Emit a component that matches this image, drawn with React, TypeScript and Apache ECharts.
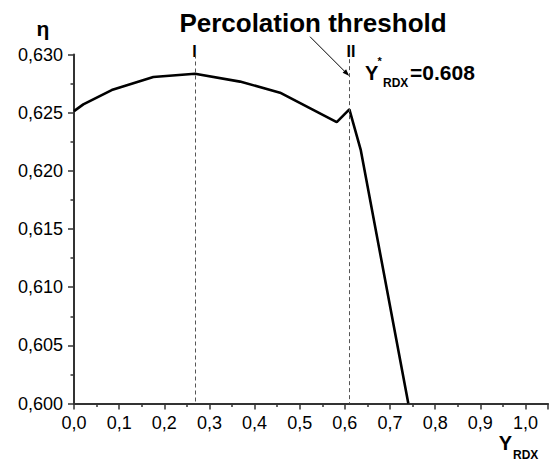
import React, { useEffect, useRef } from "react";
import * as echarts from "echarts";

const yRdx = [0, 0.0206, 0.0835, 0.1757, 0.268, 0.3677, 0.4564, 0.582, 0.61, 0.635, 0.7406];
const eta = [0.62513, 0.62571, 0.62694, 0.62806, 0.62835, 0.62767, 0.62672, 0.62419, 0.62528, 0.62183, 0.6];
const markX = [0.268, 0.61];
const markTop = [0.63, 0.6296];

const FONT = "'Liberation Sans', Arial, sans-serif";

export default function App() {
  const ref = useRef<HTMLDivElement>(null);
  useEffect(() => {
    if (!ref.current) return;
    const chart = echarts.init(ref.current, null, { renderer: "svg" });
    const data = yRdx.map((x, i) => [x, eta[i]]);
    chart.setOption({
      animation: false,
      backgroundColor: "#fff",
      textStyle: { fontFamily: FONT },
      grid: { left: 74, right: 1, top: 54.5, bottom: 60.5, containLabel: false },
      xAxis: {
        type: "value",
        min: 0,
        max: 1.05,
        interval: 0.1,
        splitLine: { show: false },
        axisLine: { show: true, lineStyle: { color: "#333", width: 2 } },
        axisTick: { show: true, inside: false, length: 6, lineStyle: { color: "#333", width: 1.5 } },
        minorTick: { show: true, splitNumber: 2, length: 3.5, lineStyle: { color: "#333", width: 1.5 } },
        axisLabel: {
          color: "#000",
          fontSize: 18,
          fontFamily: FONT,
          margin: 10,
          showMaxLabel: false,
          formatter: (v: number) => v.toFixed(1).replace(".", ","),
        },
      },
      yAxis: {
        type: "value",
        min: 0.6,
        max: 0.63,
        interval: 0.005,
        splitLine: { show: false },
        axisLine: { show: true, lineStyle: { color: "#333", width: 2 } },
        axisTick: { show: true, inside: false, length: 6, lineStyle: { color: "#333", width: 1.5 } },
        minorTick: { show: true, splitNumber: 2, length: 3.5, lineStyle: { color: "#333", width: 1.5 } },
        axisLabel: {
          color: "#000",
          fontSize: 18,
          fontFamily: FONT,
          margin: 11,
          formatter: (v: number) => v.toFixed(3).replace(".", ","),
        },
      },
      series: [
        {
          type: "line",
          data,
          symbol: "none",
          smooth: false,
          clip: true,
          lineStyle: { color: "#000", width: 2.6 },
          markLine: {
            silent: true,
            symbol: "none",
            label: { show: false },
            lineStyle: { color: "#555", width: 1, type: [4, 3] },
            data: markX.map((x, i) => [
              { coord: [x, markTop[i]] },
              { coord: [x, 0.6] },
            ]),
          },
        },
      ],
      graphic: [
        {
          type: "text",
          x: 313,
          y: 22.75,
          style: { text: "Percolation threshold", font: `bold 26px ${FONT}`, fill: "#000", align: "center", verticalAlign: "middle" },
        },
        {
          type: "text",
          x: 43,
          y: 28.5,
          style: { text: "η", font: `bold 21px ${FONT}`, fill: "#000", align: "center", verticalAlign: "middle" },
        },
        {
          type: "text",
          x: 194.5,
          y: 51,
          style: { text: "I", font: `bold 16px ${FONT}`, fill: "#000", align: "center", verticalAlign: "middle" },
        },
        {
          type: "text",
          x: 351,
          y: 51,
          style: { text: "II", font: `bold 16px ${FONT}`, fill: "#000", align: "center", verticalAlign: "middle" },
        },
        {
          type: "line",
          shape: { x1: 310, y1: 36.7, x2: 346, y2: 72.7 },
          style: { stroke: "#000", lineWidth: 1 },
        },
        {
          type: "polygon",
          shape: { points: [[349.3, 76], [342.6, 72.8], [346.1, 69.3]] },
          style: { fill: "#000" },
        },
        {
          type: "text",
          x: 365,
          y: 72.5,
          style: { text: "Y", font: `bold 20px ${FONT}`, fill: "#000", align: "left", verticalAlign: "middle" },
        },
        {
          type: "text",
          x: 377.5,
          y: 61,
          style: { text: "*", font: `bold 11px ${FONT}`, fill: "#000", align: "left", verticalAlign: "middle" },
        },
        {
          type: "text",
          x: 383,
          y: 82.5,
          style: { text: "RDX", font: `bold 12px ${FONT}`, fill: "#000", align: "left", verticalAlign: "middle" },
        },
        {
          type: "text",
          x: 410,
          y: 72.5,
          style: { text: "=0.608", font: `bold 21px ${FONT}`, fill: "#000", align: "left", verticalAlign: "middle" },
        },
        {
          type: "text",
          x: 505.5,
          y: 442.5,
          style: { text: "Y", font: `bold 20px ${FONT}`, fill: "#000", align: "center", verticalAlign: "middle" },
        },
        {
          type: "text",
          x: 513,
          y: 455,
          style: { text: "RDX", font: `bold 12px ${FONT}`, fill: "#000", align: "left", verticalAlign: "middle" },
        },
      ],
    });
    return () => chart.dispose();
  }, []);
  return (
    <div
      ref={ref}
      style={{ position: "absolute", left: 0, top: 0, width: 549, height: 464 }}
    />
  );
}
